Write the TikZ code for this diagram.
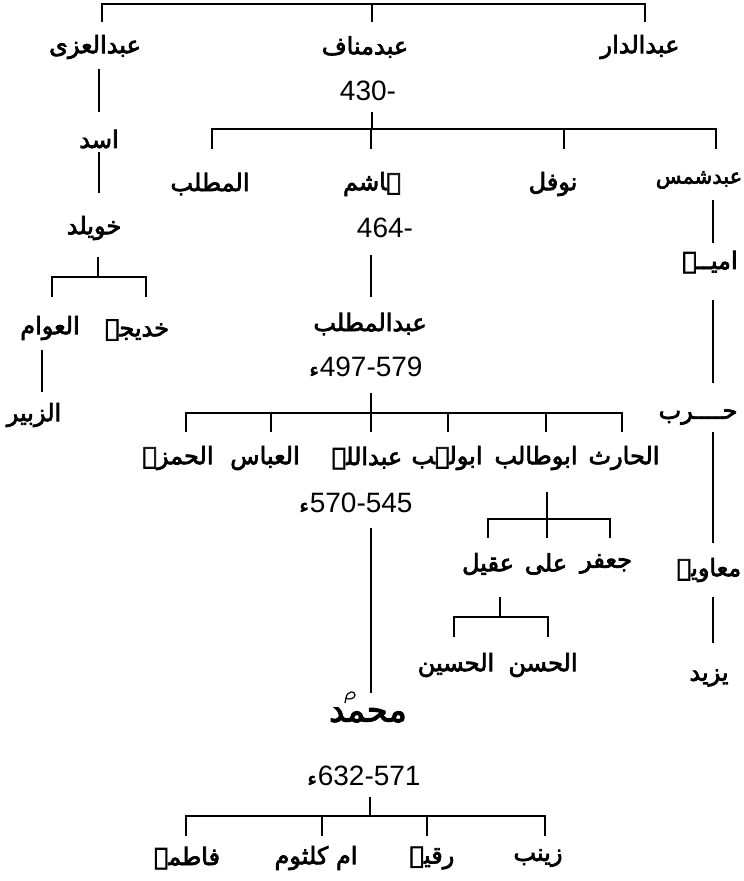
\documentclass[tikz,border=0pt]{standalone}
\usepackage{fontspec}
\TeXXeTstate=1
\newfontfamily\arabicfont[Script=Arabic,FakeBold=3]{DejaVu Sans}
\newfontfamily\numfont{Liberation Sans}
\usetikzlibrary{calc}
\tikzset{
  nm/.style={font=\arabicfont\fontsize{24}{28}\selectfont, inner sep=0pt},
  smallnm/.style={font=\arabicfont\fontsize{21}{25}\selectfont, inner sep=0pt},
  bignm/.style={font=\arabicfont\fontsize{34}{38}\selectfont, inner sep=0pt},
  num/.style={font=\numfont\fontsize{28}{32}\selectfont, inner sep=0pt},
  link/.style={line width=1.1pt, black}
}
\newcommand{\hmz}{{\arabicfont\fontsize{20}{24}\selectfont\beginR ء\endR}\kern1pt}
\begin{document}
\begin{tikzpicture}[x=1pt,y=-1pt]
\useasboundingbox (0,0) rectangle (744,881);
% ---- names ----
\node[nm] (uzza) at (95,47) {\beginR عبدالعزی\endR};
\node[nm] (manaf) at (365,47) {\beginR عبدمناف\endR};
\node[nm] (dar) at (640,47) {\beginR عبدالدار\endR};
\node[num] (n430) at (368,91) {430-};
\node[nm] (asad) at (99,139) {\beginR اسد\endR};
\node[nm] (khuw) at (94,228) {\beginR خویلد\endR};
\node[nm] (khadija) at (137,330) {\beginR خدیجہ\endR};
\node[nm] (awwam) at (50,328) {\beginR العوام\endR};
\node[nm] (zubayr) at (34,415) {\beginR الزبیر\endR};
\node[nm] (muttalib) at (210,184) {\beginR المطلب\endR};
\node[nm] (hashim) at (372,184) {\beginR ہاشم\endR};
\node[nm] (nawfal) at (553,184) {\beginR نوفل\endR};
\node[smallnm] (shams) at (699,180) {\beginR عبدشمس\endR};
\node[num] (n464) at (385,228) {464-};
\node[nm] (umayya) at (710,262) {\beginR امیــہ\endR};
\node[nm] (harb) at (698,417) {\beginR حــــرب\endR};
\node[nm] (abdmuttalib) at (370,324) {\beginR عبدالمطلب\endR};
\node[num] (n497) at (366,367) {\hmz497-579};
\node[nm] (hamza) at (178,458) {\beginR الحمزہ\endR};
\node[nm] (abbas) at (265,458) {\beginR العباس\endR};
\node[nm] (abdallah) at (367,458) {\beginR عبداللہ\endR};
\node[nm] (abulahab) at (447,458) {\beginR ابولہب\endR};
\node[nm] (abutalib) at (536,458) {\beginR ابوطالب\endR};
\node[nm] (harith) at (624,458) {\beginR الحارث\endR};
\node[num] (n570) at (356,503) {\hmz570-545};
\node[nm] (aqil) at (488,564) {\beginR عقیل\endR};
\node[nm] (ali) at (546,564) {\beginR علی\endR};
\node[nm] (jafar) at (606,564) {\beginR جعفر\endR};
\node[nm] (husayn) at (456,665) {\beginR الحسین\endR};
\node[nm] (hasan) at (543,665) {\beginR الحسن\endR};
\node[nm] (muawiya) at (709,570) {\beginR معاویہ\endR};
\node[nm] (yazid) at (709,678) {\beginR یزید\endR};
\node[bignm] (muhammad) at (368,715) {\beginR محمد\endR};
\node[num] (n632) at (364,776) {\hmz632-571};
\node[nm] (fatima) at (187,858) {\beginR فاطمہ\endR};
\node[nm] (kulthum) at (316,858) {\beginR ام کلثوم\endR};
\node[nm] (ruqayya) at (432,858) {\beginR رقیہ\endR};
\node[nm] (zaynab) at (538,858) {\beginR زینب\endR};
% honorific mark over the name of the Prophet
\draw[line width=1.2pt] ($(muhammad)+(-22,-17)$) .. controls ($(muhammad)+(-21,-24)$) and ($(muhammad)+(-13,-25)$) .. ($(muhammad)+(-13,-20)$) .. controls ($(muhammad)+(-13,-16)$) and ($(muhammad)+(-20,-15)$) .. ($(muhammad)+(-22,-17)$) -- ($(muhammad)+(-23,-12)$);
% ---- connectors ----
% top generation
\draw[link] ($(uzza)+(7,-25)$) |- ($(dar)+(5,-43)$) -- ($(dar)+(5,-25)$);
\draw[link] ($(manaf)+(7,-43)$) -- ($(manaf)+(7,-25)$);
% Abd al-Uzza line
\draw[link] ($(uzza)+(4,22)$) -- ($(asad)+(0,-27)$);
\draw[link] ($(asad)+(0,13)$) -- ($(khuw)+(5,-35)$);
\draw[link] ($(khuw)+(4,29)$) -- ($(khuw)+(4,49)$);
\draw[link] ($(awwam)+(2,-31)$) |- ($(khadija)+(9,-53)$) -- ($(khadija)+(9,-33)$);
\draw[link] ($(awwam)+(-8,22)$) -- ($(zubayr)+(8,-23)$);
% Abd Manaf children
\draw[link] ($(n430)+(4,21)$) -- ($(n430)+(4,38)$);
\draw[link] ($(muttalib)+(2,-35)$) |- ($(shams)+(17,-51)$) -- ($(shams)+(17,-31)$);
\draw[link] ($(hashim)+(-1,-55)$) -- ($(hashim)+(-1,-35)$);
\draw[link] ($(nawfal)+(11,-55)$) -- ($(nawfal)+(11,-35)$);
% Umayyad line
\draw[link] ($(shams)+(14,20)$) -- ($(umayya)+(3,-19)$);
\draw[link] ($(umayya)+(3,38)$) -- ($(harb)+(15,-34)$);
\draw[link] ($(harb)+(15,15)$) -- ($(muawiya)+(4,-27)$);
\draw[link] ($(muawiya)+(4,27)$) -- ($(yazid)+(4,-35)$);
% Hashim line
\draw[link] ($(n464)+(-14,27)$) -- ($(abdmuttalib)+(1,-27)$);
\draw[link] ($(n497)+(5,26)$) -- ($(n497)+(5,46)$);
\draw[link] ($(hamza)+(8,-26)$) |- ($(harith)+(-2,-45)$) -- ($(harith)+(-2,-26)$);
\draw[link] ($(abbas)+(6,-45)$) -- ($(abbas)+(6,-26)$);
\draw[link] ($(abdallah)+(4,-45)$) -- ($(abdallah)+(4,-26)$);
\draw[link] ($(abulahab)+(1,-45)$) -- ($(abulahab)+(1,-26)$);
\draw[link] ($(abutalib)+(10,-45)$) -- ($(abutalib)+(10,-26)$);
% Abu Talib children
\draw[link] ($(abutalib)+(11,34)$) -- ($(abutalib)+(11,61)$);
\draw[link] ($(aqil)+(0,-26)$) |- ($(jafar)+(4,-45)$) -- ($(jafar)+(4,-26)$);
\draw[link] ($(ali)+(1,-45)$) -- ($(ali)+(1,-26)$);
\draw[link] ($(aqil)+(12,33)$) -- ($(aqil)+(12,53)$);
\draw[link] ($(husayn)+(-2,-28)$) |- ($(hasan)+(5,-48)$) -- ($(hasan)+(5,-28)$);
% Abdallah to Muhammad
\draw[link] ($(n570)+(15,25)$) -- ($(muhammad)+(3,-22)$);
% Muhammad's children
\draw[link] ($(n632)+(6,21)$) -- ($(n632)+(6,40)$);
\draw[link] ($(fatima)+(-1,-22)$) |- ($(zaynab)+(7,-42)$) -- ($(zaynab)+(7,-22)$);
\draw[link] ($(kulthum)+(6,-42)$) -- ($(kulthum)+(6,-22)$);
\draw[link] ($(ruqayya)+(-5,-42)$) -- ($(ruqayya)+(-5,-22)$);
\end{tikzpicture}
\end{document}
